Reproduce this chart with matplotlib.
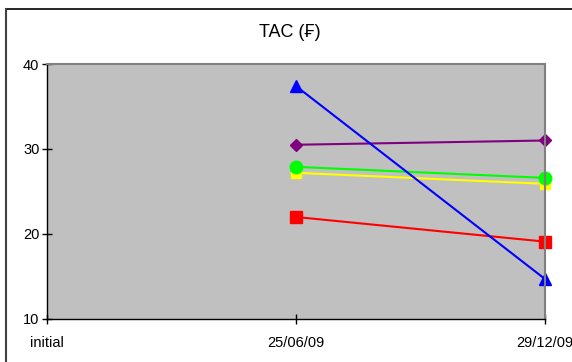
import numpy as np
import matplotlib.pyplot as plt
from matplotlib.lines import Line2D

plt.rcParams['font.family'] = ['Liberation Sans', 'DejaVu Sans']

# categories on the x axis
dates = ['initial', '25/06/09', '29/12/09']

# series values (initial has no measurements)
blue = [np.nan, 37.4, 14.7]
purple = [np.nan, 30.5, 31.0]
yellow = [np.nan, 27.2, 25.9]
green = [np.nan, 27.9, 26.6]
red = [np.nan, 22.0, 19.1]

yticks = [10, 20, 30, 40]

fig = plt.figure(figsize=(5.72, 3.62), dpi=100)
ax = fig.add_axes([0.0822, 0.1188, 0.8706, 0.7044])
ax.set_facecolor('#c0c0c0')

x = np.arange(len(dates))
ax.plot(x, red, color='red', lw=1.5, marker='s', ms=8.5, clip_on=False)
ax.plot(x, yellow, color='yellow', lw=1.5, marker='s', ms=7.5, clip_on=False)
ax.plot(x, green, color='#00ff00', lw=1.5, marker='o', ms=9, clip_on=False)
ax.plot(x, purple, color='purple', lw=1.5, marker='D', ms=6.5, clip_on=False)
ax.plot(x, blue, color='blue', lw=1.5, marker='^', ms=9, clip_on=False)

ax.set_xlim(0, 2)
ax.set_ylim(10, 40)
ax.set_yticks(yticks)
ax.set_xticks(x)
ax.set_xticklabels(dates)
ax.tick_params(axis='both', direction='inout', length=7, width=1, labelsize=10.5, colors='black')
ax.tick_params(axis='x', pad=9)
ax.tick_params(axis='y', pad=2)

for s in ['top', 'right']:
    ax.spines[s].set_color('#808080')
    ax.spines[s].set_linewidth(1.5)
for s in ['left', 'bottom']:
    ax.spines[s].set_color('black')
    ax.spines[s].set_linewidth(1)

fig.text(0.507, 0.91, 'TAC (\u20a3)', ha='center', va='center', fontsize=13)

# outer chart frame
fig.add_artist(Line2D([6 / 572, 1], [1 - 9 / 362, 1 - 9 / 362], color='black', lw=1.2, transform=fig.transFigure))
fig.add_artist(Line2D([6 / 572, 6 / 572], [0, 1 - 9 / 362], color='#404040', lw=1.5, transform=fig.transFigure))

fig.savefig('out.png', dpi=100)
